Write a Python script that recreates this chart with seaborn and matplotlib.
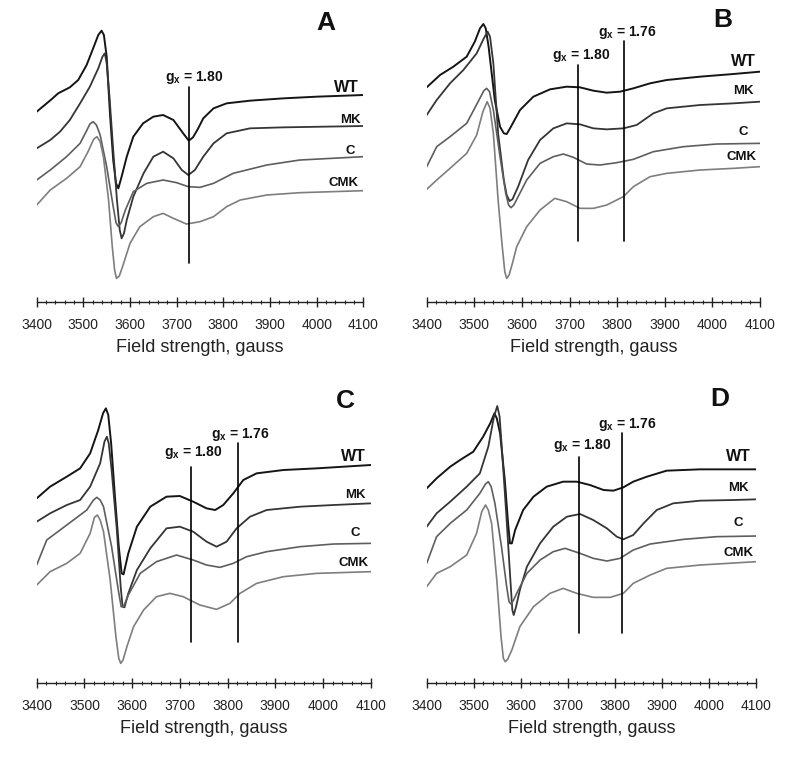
"""
# EPR spectra, four panels (A-D), WT / MK / C / CMK
# field in gauss, signal read off the picture (arbitrary units, drawn downward)
#"""
import numpy as np
import pandas as pd
import seaborn as sns
import matplotlib.pyplot as plt

sns.set_theme(style='white')
plt.rcParams['font.family'] = ['Liberation Sans', 'DejaVu Sans']
plt.rcParams['mathtext.fontset'] = 'custom'
plt.rcParams['mathtext.rm'] = 'Liberation Sans'
plt.rcParams['mathtext.bf'] = 'Liberation Sans:bold'

# ---- data : (field gauss, signal a.u.) ----------------------------------
# panel A
a_wt = [(3400, 335), (3430, 300), (3446, 280), (3471, 262), (3489, 240), (3507, 195),
        (3521, 145), (3532, 105), (3539, 92), (3544, 105), (3550, 170), (3557, 340),
        (3564, 480), (3570, 550), (3575, 565), (3582, 530), (3593, 470), (3607, 410),
        (3628, 370), (3650, 350), (3671, 345), (3693, 360), (3714, 400), (3726, 422),
        (3735, 412), (3745, 388), (3757, 355), (3779, 325), (3807, 310), (3857, 302),
        (3929, 295), (4000, 290), (4100, 285)]
a_mk = [(3400, 445), (3429, 420), (3450, 395), (3471, 360), (3493, 310), (3514, 260),
        (3532, 205), (3541, 170), (3546, 160), (3550, 190), (3556, 290), (3564, 450),
        (3572, 600), (3578, 690), (3582, 715), (3587, 700), (3593, 660), (3607, 590),
        (3629, 520), (3650, 470), (3671, 455), (3693, 475), (3711, 510), (3725, 525),
        (3739, 510), (3757, 470), (3779, 430), (3807, 400), (3857, 385), (3929, 382),
        (4100, 378)]
a_c = [(3400, 540), (3429, 510), (3464, 470), (3493, 430), (3507, 392), (3514, 372),
       (3521, 365), (3528, 375), (3536, 405), (3550, 500), (3564, 620), (3570, 668),
       (3575, 680), (3581, 668), (3590, 630), (3607, 575), (3636, 550), (3671, 540),
       (3700, 548), (3725, 560), (3750, 562), (3779, 550), (3821, 520), (3893, 495),
       (3964, 480), (4100, 470)]
a_cmk = [(3400, 615), (3429, 570), (3464, 535), (3493, 500), (3510, 455), (3522, 418),
         (3529, 410), (3536, 425), (3543, 470), (3554, 600), (3562, 740), (3567, 810),
         (3571, 835), (3577, 828), (3584, 800), (3600, 730), (3621, 680), (3650, 650),
         (3671, 640), (3693, 655), (3721, 672), (3750, 665), (3779, 650), (3807, 620),
         (3836, 600), (3893, 585), (3964, 578), (4100, 572)]

# panel B
b_wt = [(3400, 262), (3428, 225), (3456, 200), (3484, 170), (3501, 125), (3512, 85),
        (3519, 72), (3524, 85), (3530, 140), (3543, 300), (3554, 380), (3562, 400),
        (3568, 402), (3575, 385), (3596, 330), (3624, 290), (3659, 268), (3694, 260),
        (3722, 262), (3750, 272), (3778, 278), (3806, 275), (3834, 265), (3869, 250),
        (3904, 240), (3974, 230), (4044, 222), (4100, 215)]
b_mk = [(3400, 345), (3421, 300), (3449, 250), (3477, 210), (3505, 160), (3520, 115),
        (3528, 95), (3533, 110), (3540, 190), (3550, 400), (3562, 540), (3568, 585),
        (3574, 603), (3580, 598), (3592, 560), (3613, 480), (3638, 420), (3666, 385),
        (3694, 370), (3722, 373), (3750, 385), (3778, 388), (3813, 385), (3841, 375),
        (3876, 340), (3904, 325), (3974, 315), (4044, 310), (4100, 305)]
b_c = [(3400, 500), (3421, 440), (3449, 410), (3484, 370), (3508, 305), (3520, 272),
       (3526, 265), (3532, 275), (3540, 330), (3554, 470), (3566, 580), (3572, 615),
       (3577, 623), (3583, 615), (3592, 590), (3610, 540), (3638, 490), (3666, 470),
       (3687, 462), (3708, 472), (3736, 492), (3764, 495), (3799, 488), (3834, 478),
       (3876, 455), (3939, 440), (4009, 432), (4100, 430)]
b_cmk = [(3400, 568), (3421, 540), (3449, 505), (3484, 460), (3505, 405), (3518, 335),
         (3527, 305), (3533, 325), (3540, 400), (3550, 600), (3558, 730), (3564, 815),
         (3568, 835), (3573, 825), (3580, 790), (3589, 740), (3610, 680), (3638, 630),
         (3669, 595), (3694, 605), (3722, 625), (3750, 625), (3778, 615), (3813, 590),
         (3834, 560), (3869, 530), (3904, 520), (3974, 510), (4044, 505), (4100, 500)]

# panel C
c_wt = [(3400, 355), (3428, 320), (3463, 290), (3491, 265), (3512, 220), (3529, 150),
        (3539, 100), (3545, 85), (3550, 105), (3556, 190), (3564, 350), (3572, 500),
        (3578, 580), (3582, 583), (3592, 520), (3610, 440), (3638, 380), (3672, 350),
        (3700, 348), (3728, 365), (3756, 385), (3774, 390), (3791, 375), (3812, 340),
        (3833, 300), (3861, 280), (3917, 270), (3987, 265), (4100, 255)]
c_mk = [(3400, 425), (3428, 400), (3463, 375), (3491, 360), (3512, 320), (3533, 250),
        (3542, 185), (3547, 170), (3551, 190), (3557, 270), (3568, 450), (3576, 620),
        (3580, 680), (3584, 682), (3592, 640), (3610, 570), (3638, 505), (3672, 445),
        (3700, 440), (3728, 455), (3756, 485), (3777, 500), (3798, 485), (3819, 445),
        (3847, 410), (3882, 390), (3952, 380), (4022, 375), (4100, 370)]
c_c = [(3400, 555), (3421, 480), (3449, 450), (3477, 420), (3505, 390), (3519, 360),
       (3526, 352), (3533, 360), (3540, 380), (3557, 500), (3571, 630), (3577, 680),
       (3582, 680), (3592, 645), (3617, 580), (3651, 545), (3693, 525), (3728, 540),
       (3756, 555), (3784, 562), (3812, 550), (3840, 530), (3882, 515), (3952, 500),
       (4022, 492), (4100, 490)]
c_cmk = [(3400, 615), (3428, 575), (3463, 550), (3491, 520), (3512, 460), (3521, 412),
         (3527, 405), (3533, 420), (3540, 455), (3554, 600), (3566, 770), (3572, 835),
         (3576, 850), (3581, 840), (3589, 800), (3603, 740), (3624, 690), (3651, 650),
         (3679, 640), (3707, 650), (3742, 675), (3777, 688), (3805, 670), (3826, 640),
         (3861, 610), (3917, 590), (3987, 580), (4100, 575)]

# panel D
d_wt = [(3400, 325), (3421, 295), (3450, 260), (3471, 240), (3499, 215), (3520, 170),
        (3535, 130), (3544, 100), (3549, 115), (3556, 160), (3566, 300), (3573, 430),
        (3577, 490), (3581, 490), (3588, 450), (3605, 390), (3627, 350), (3655, 320),
        (3690, 305), (3719, 305), (3747, 315), (3776, 330), (3797, 332), (3818, 322),
        (3839, 305), (3868, 290), (3910, 272), (3981, 268), (4100, 268)]
d_mk = [(3400, 440), (3421, 400), (3450, 365), (3485, 320), (3513, 280), (3531, 200),
        (3543, 110), (3550, 78), (3555, 110), (3561, 230), (3569, 400), (3577, 580),
        (3582, 690), (3585, 705), (3590, 680), (3598, 630), (3613, 560), (3641, 490),
        (3669, 440), (3698, 410), (3726, 402), (3754, 420), (3783, 445), (3804, 470),
        (3818, 478), (3839, 465), (3861, 430), (3889, 390), (3924, 370), (3981, 362),
        (4052, 360), (4100, 358)]
d_c = [(3400, 550), (3421, 470), (3450, 430), (3485, 390), (3513, 340), (3525, 312),
       (3531, 305), (3537, 320), (3545, 370), (3559, 500), (3570, 620), (3575, 665),
       (3579, 672), (3584, 662), (3593, 635), (3613, 580), (3641, 540), (3669, 515),
       (3694, 505), (3726, 520), (3754, 535), (3783, 543), (3811, 535), (3839, 510),
       (3875, 492), (3946, 478), (4016, 470), (4100, 468)]
d_cmk = [(3400, 620), (3421, 580), (3450, 560), (3485, 525), (3506, 460), (3517, 395),
         (3525, 375), (3531, 390), (3538, 430), (3549, 600), (3558, 770), (3563, 835),
         (3567, 845), (3572, 838), (3581, 810), (3598, 740), (3627, 680), (3662, 640),
         (3690, 625), (3719, 640), (3754, 652), (3790, 652), (3818, 640), (3839, 610),
         (3875, 585), (3910, 565), (3981, 555), (4100, 545)]

samples = ['WT', 'MK', 'C', 'CMK']
panels = ['A', 'B', 'C', 'D']
spectra = {'A': [a_wt, a_mk, a_c, a_cmk],
           'B': [b_wt, b_mk, b_c, b_cmk],
           'C': [c_wt, c_mk, c_c, c_cmk],
           'D': [d_wt, d_mk, d_c, d_cmk]}

# g-marker positions (gauss) and labels
gx_lines = {'A': [3726], 'B': [3718, 3815], 'C': [3723, 3821], 'D': [3724, 3816]}
gx_texts = ['1.80', '1.76']

x_ticks = [3400, 3500, 3600, 3700, 3800, 3900, 4000, 4100]

# ---- style / layout (pixels of the 800x757 figure) ----
colors = ['#151515', '#353535', '#5e5e5e', '#7e7e7e']
widths = [1.4, 1.3, 1.2, 1.2]
W, H = 800, 757
# left px, right px, axis-line px, crop top px, axis-line (a.u.)
boxes = {'A': (36.7, 363.3, 301.7, 0, 905),
         'B': (426.7, 760.0, 301.7, 0, 905),
         'C': (36.7, 370.7, 682.7, 380, 908),
         'D': (426.7, 756.0, 682.7, 380, 908)}
label_y = {'A': [262, 360, 452, 548], 'B': [185, 272, 395, 470],
           'C': [228, 345, 458, 550], 'D': [230, 325, 430, 520]}
label_x = {'A': [1040, 1050, 1050, 1030], 'B': [1030, 1030, 1030, 1025],
           'C': [1060, 1065, 1065, 1060], 'D': [1015, 1015, 1015, 1015]}
gx_text_x = {'A': [3737], 'B': [3724, 3822], 'C': [3728, 3826], 'D': [3731, 3827]}
gx_text_y = {'A': [232], 'B': [167, 97], 'C': [217, 162], 'D': [197, 132]}
gx_top = {'A': [262], 'B': [195, 122], 'C': [262, 190], 'D': [232, 160]}
gx_bot = {'A': 790, 'B': 722, 'C': 787, 'D': 760}
letter_xy = {'A': (977, 70), 'B': (967, 60), 'C': (1035, 62), 'D': (960, 58)}

fig = plt.figure(figsize=(W / 100, H / 100), dpi=100)

for p in panels:
    left, right, base, top, yb = boxes[p]
    ax = fig.add_axes([left / W, (H - base) / H, (right - left) / W, (base - top) / H])
    ax.set_xlim(3400, 4100)
    ax.set_ylim(yb, 0)

    rows = []
    for s, curve in zip(samples, spectra[p]):
        for f, v in curve:
            rows.append({'field': f, 'signal': v, 'sample': s})
    df = pd.DataFrame(rows)
    sns.lineplot(data=df, x='field', y='signal', hue='sample', hue_order=samples,
                 palette=colors, sort=False, estimator=None, legend=False, ax=ax)
    for line, lw in zip(ax.lines, widths):
        line.set_linewidth(lw)
        line.set_solid_joinstyle('round')

    # crop pixel x (3x zoom) -> gauss, for text placement
    x0z = left * 3 - (0 if p in 'AC' else 1200)
    x1z = right * 3 - (0 if p in 'AC' else 1200)

    def zx(xz):
        return 3400 + (xz - x0z) / (x1z - x0z) * 700

    for i, g in enumerate(gx_lines[p]):
        ax.plot([g, g], [gx_top[p][i], gx_bot[p]], color='black', lw=1.2)
        ax.text(gx_text_x[p][i], gx_text_y[p][i], r'$\mathbf{g_x}$' + ' = ' + gx_texts[i],
                ha='center', va='center', fontsize=10, fontweight='bold', color='#111111')

    for i, s in enumerate(samples):
        ax.text(zx(label_x[p][i]), label_y[p][i], s, ha='center', va='center',
                fontsize=11.5 if s == 'WT' else 9.5, fontweight='bold', color='#111111')

    lx, ly = letter_xy[p]
    ax.text(zx(lx), ly, p, ha='center', va='center', fontsize=19, fontweight='bold',
            color='#111111')

    # ruler-like bottom axis
    for sp in ['top', 'left', 'right']:
        ax.spines[sp].set_visible(False)
    ax.spines['bottom'].set_color('#222222')
    ax.spines['bottom'].set_linewidth(1.0)
    ax.set_yticks([])
    ax.set_xticks(x_ticks)
    ax.set_xticks(np.arange(3400, 4101, 20), minor=True)
    ax.tick_params(axis='x', which='major', direction='inout', length=7, width=1.0,
                   color='#222222', pad=8, labelsize=10, labelcolor='#222222', bottom=True)
    ax.tick_params(axis='x', which='minor', direction='inout', length=3.5, width=0.8,
                   color='#222222', bottom=True)
    ax.set_xlabel('Field strength, gauss', fontsize=13, color='#222222', labelpad=5)
    ax.set_ylabel('')
    ax.patch.set_alpha(0)

fig.savefig('out.png', dpi=100)
